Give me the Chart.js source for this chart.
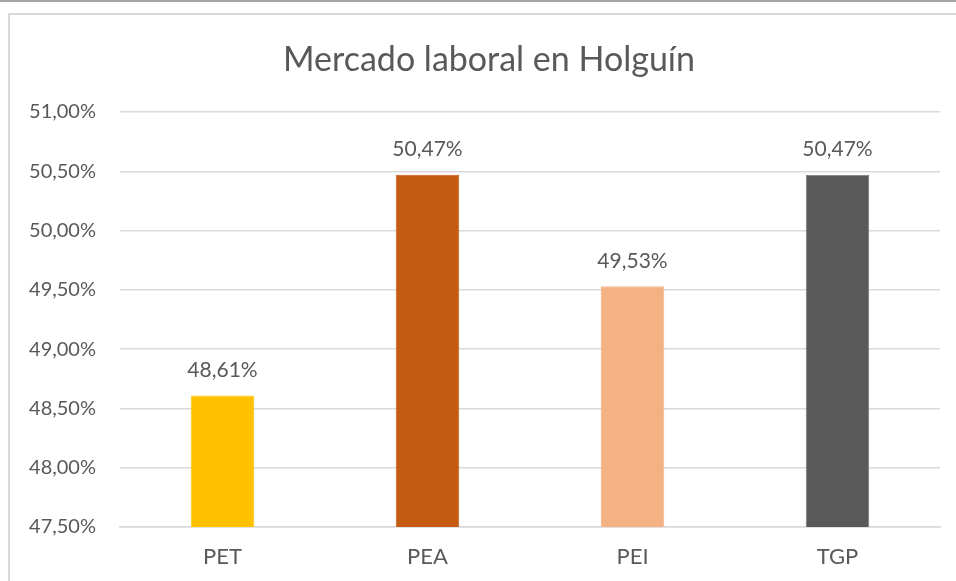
<!DOCTYPE html>
<html>
<head>
<meta charset="utf-8">
<script src="https://cdn.jsdelivr.net/npm/chart.js@4"></script>
<style>
  html, body { margin: 0; padding: 0; background: #fff; overflow: hidden; }
  #topLine { position: absolute; left: 0; top: 0; width: 956px; height: 2px; background: #a6a6a6; }
  #frame { position: absolute; left: 8px; top: 13px; width: 1000px; height: 700px; border: 2px solid #d9d9d9; box-sizing: border-box; }
  #wrap { position: absolute; left: 0; top: 0; width: 956px; height: 581px; }
</style>
</head>
<body>
<div id="topLine"></div>
<div id="frame"></div>
<div id="wrap"><canvas id="myChart"></canvas></div>
<script>
const categories = ['PET', 'PEA', 'PEI', 'TGP'];
const values = [48.61, 50.47, 49.53, 50.47];
const barColors = ['#FFC000', '#C55A11', '#F4B183', '#595959'];
const yTicks = [47.5, 48, 48.5, 49, 49.5, 50, 50.5, 51];
const chartTitle = 'Mercado laboral en Holguín';

const fmt = (v) => v.toFixed(2).replace('.', ',') + '%';
const fontName = 'Lato, "Open Sans", sans-serif';

// titulo: centrado como en el original (algo a la derecha del centro del canvas)
const titleText = {
  id: 'titleText',
  afterDraw(chart) {
    const { ctx } = chart;
    ctx.save();
    ctx.font = '34px ' + fontName;
    ctx.fillStyle = '#595959';
    ctx.textAlign = 'center';
    ctx.textBaseline = 'middle';
    ctx.fillText(chartTitle, 489, 60);
    ctx.restore();
  },
};

// etiquetas encima de cada barra
const barLabels = {
  id: 'barLabels',
  afterDatasetsDraw(chart) {
    const { ctx } = chart;
    const meta = chart.getDatasetMeta(0);
    ctx.save();
    ctx.font = '21px ' + fontName;
    ctx.fillStyle = '#595959';
    ctx.textAlign = 'center';
    ctx.textBaseline = 'bottom';
    meta.data.forEach((bar, i) => {
      ctx.fillText(fmt(values[i]), bar.x, bar.y - 15);
    });
    ctx.restore();
  },
};

const ctx = document.getElementById('myChart');

new Chart(ctx, {
  type: 'bar',
  data: {
    labels: categories,
    datasets: [
      {
        data: values,
        backgroundColor: barColors,
        borderColor: barColors.map((c) => (c === '#595959' ? '#7a7a7a' : c)),
        borderWidth: 1,
        barPercentage: 0.31,
        categoryPercentage: 1,
      },
    ],
  },
  options: {
    responsive: true,
    maintainAspectRatio: false,
    animation: false,
    layout: {
      padding: { left: 16, right: 16, top: 112, bottom: 0 },
    },
    plugins: {
      legend: { display: false },
      tooltip: { enabled: false },
      title: { display: false },
    },
    scales: {
      x: {
        grid: { display: false, drawTicks: false },
        border: { color: '#d9d9d9', width: 1.5 },
        ticks: {
          color: '#595959',
          font: { family: fontName, size: 22 },
          padding: 17,
        },
        afterFit: (s) => { s.height = 54; },
      },
      y: {
        min: yTicks[0],
        max: yTicks[yTicks.length - 1],
        afterBuildTicks: (s) => { s.ticks = yTicks.map((v) => ({ value: v })); },
        grid: { color: '#d9d9d9', lineWidth: 1.5, drawTicks: false },
        border: { display: false },
        ticks: {
          color: '#595959',
          font: { family: fontName, size: 20 },
          padding: 24,
          callback: (v) => fmt(v),
        },
        afterFit: (s) => { s.width = 104; },
      },
    },
  },
  plugins: [barLabels, titleText],
});
</script>
</body>
</html>
